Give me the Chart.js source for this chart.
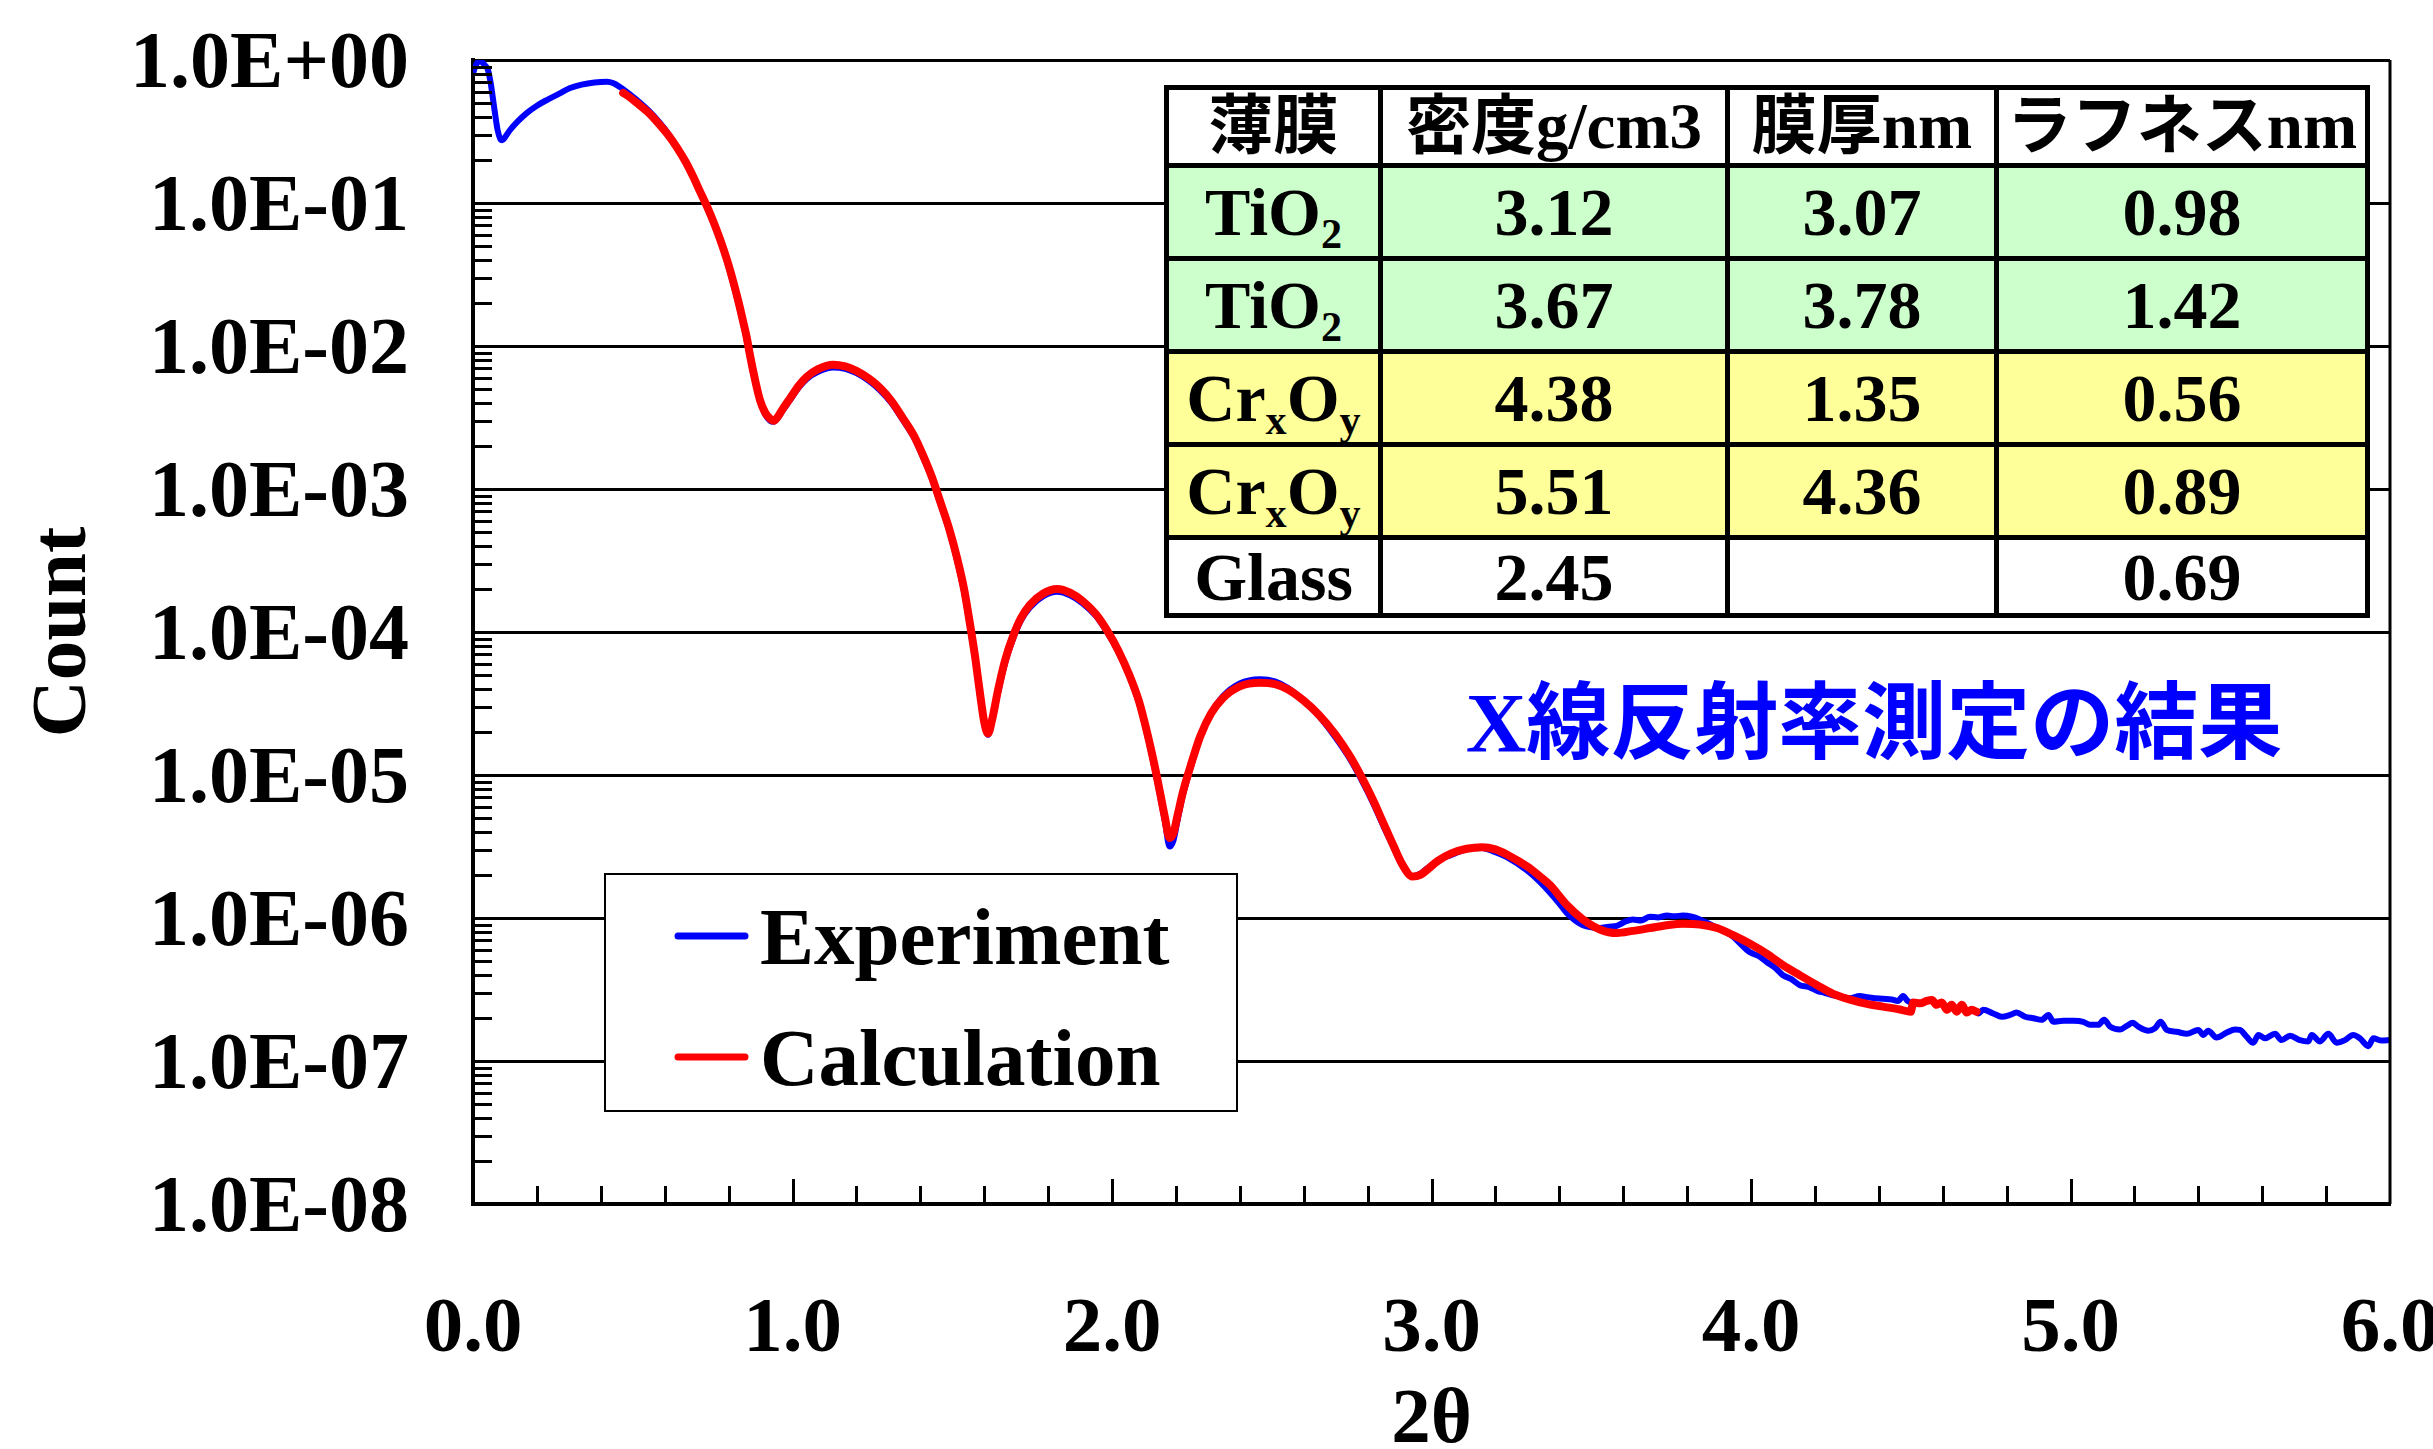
<!DOCTYPE html>
<html>
<head>
<meta charset="utf-8">
<script src="https://cdn.jsdelivr.net/npm/chart.js@4.4.1/dist/chart.umd.min.js"></script>
<style>
  body { margin: 0; background: #fff; }
  #wrap { position: relative; width: 2433px; height: 1449px; }
  #films {
    position: absolute; left: 1164px; top: 85px;
    width: 1201px; border-collapse: collapse; table-layout: fixed;
    font: bold 68px "Liberation Serif", "Noto Sans CJK JP", serif;
    text-align: center; background: #fff;
  }
  #films td { border: 5px solid #000; padding: 0; line-height: 1; }
  #films tr.head td { height: 73px; font-size: 65px; }
  #films tr.row td { height: 88px; }
  #films tr.last td { height: 73px; }
  #films tr.tio td { background: #ccffcc; }
  #films tr.cr td { background: #ffff99; }
  #films sub { font-size: 0.62em; line-height: 0; vertical-align: -0.3em; }
</style>
</head>
<body>
<div id="wrap">
  <canvas id="chart" width="2433" height="1449"></canvas>
  <table id="films">
    <colgroup><col style="width:214px"><col style="width:347px"><col style="width:269px"><col style="width:371px"></colgroup>
    <tr class="head"><td>薄膜</td><td>密度g/cm3</td><td>膜厚nm</td><td>ラフネスnm</td></tr>
    <tr class="row tio"><td>TiO<sub>2</sub></td><td>3.12</td><td>3.07</td><td>0.98</td></tr>
    <tr class="row tio"><td>TiO<sub>2</sub></td><td>3.67</td><td>3.78</td><td>1.42</td></tr>
    <tr class="row cr"><td>Cr<sub>x</sub>O<sub>y</sub></td><td>4.38</td><td>1.35</td><td>0.56</td></tr>
    <tr class="row cr"><td>Cr<sub>x</sub>O<sub>y</sub></td><td>5.51</td><td>4.36</td><td>0.89</td></tr>
    <tr class="last"><td>Glass</td><td>2.45</td><td></td><td>0.69</td></tr>
  </table>
</div>
<script>
// measured reflectivity (blue)
var expX = [0.000, 0.010, 0.022, 0.035, 0.047, 0.056, 0.063, 0.070, 0.077, 0.085, 0.092, 0.100, 0.116, 0.140, 0.169, 0.200,
  0.231, 0.270, 0.304, 0.340, 0.380, 0.419, 0.440, 0.460, 0.485, 0.513, 0.550, 0.585, 0.613, 0.638, 0.665, 0.689, 0.710,
  0.732, 0.753, 0.773, 0.795, 0.814, 0.830, 0.845, 0.857, 0.867, 0.880, 0.898, 0.915, 0.930, 0.941, 0.955, 0.970, 0.992,
  1.020, 1.045, 1.080, 1.127, 1.165, 1.200, 1.240, 1.274, 1.310, 1.346, 1.380, 1.409, 1.437, 1.462, 1.490, 1.515, 1.537,
  1.556, 1.572, 1.587, 1.600, 1.612, 1.625, 1.643, 1.665, 1.690, 1.715, 1.743, 1.785, 1.828, 1.870, 1.909, 1.950, 1.984,
  2.020, 2.056, 2.085, 2.110, 2.132, 2.150, 2.166, 2.180, 2.192, 2.205, 2.222, 2.250, 2.276, 2.310, 2.347, 2.400, 2.463,
  2.510, 2.550, 2.600, 2.648, 2.700, 2.745, 2.780, 2.818, 2.850, 2.880, 2.910, 2.940, 2.965, 2.988, 3.020, 3.060, 3.110,
  3.158, 3.200, 3.240, 3.300, 3.340, 3.371, 3.400, 3.424, 3.450, 3.474, 3.500, 3.527, 3.555, 3.580, 3.605, 3.630, 3.655,
  3.684, 3.710, 3.737, 3.760, 3.787, 3.815, 3.840, 3.870, 3.894, 3.920, 3.944, 3.970, 3.997, 4.025, 4.050, 4.075, 4.100,
  4.125, 4.153, 4.180, 4.207, 4.230, 4.257, 4.285, 4.310, 4.340, 4.363, 4.390, 4.413, 4.440, 4.460, 4.476, 4.490, 4.500,
  4.508, 4.529, 4.550, 4.566, 4.581, 4.597, 4.613, 4.628, 4.644, 4.660, 4.675, 4.691, 4.706,
  4.711, 4.727, 4.758, 4.785, 4.811, 4.831, 4.858, 4.884, 4.910, 4.931, 4.946, 4.978, 5.009, 5.040, 5.061, 5.087, 5.105,
  5.124, 5.155, 5.176, 5.195, 5.212, 5.244, 5.264, 5.282, 5.301, 5.332, 5.364, 5.400, 5.416, 5.431, 5.457, 5.489, 5.515,
  5.530, 5.551, 5.572, 5.588, 5.609, 5.640, 5.661, 5.687, 5.718, 5.744, 5.755, 5.781, 5.807, 5.833, 5.859, 5.885, 5.906,
  5.932, 5.948, 5.974, 6.000];
var expY = [0.81, 0.93, 0.98, 0.93, 0.85, 0.676, 0.525, 0.407, 0.324, 0.282, 0.275, 0.288, 0.324, 0.372, 0.427, 0.479,
  0.525, 0.582, 0.637, 0.673, 0.697, 0.705, 0.687, 0.647, 0.589, 0.525, 0.442, 0.363, 0.302, 0.247, 0.195, 0.152, 0.120,
  0.0933, 0.0724, 0.055, 0.0389, 0.0275, 0.020, 0.0145, 0.011, 0.0083, 0.006, 0.0041, 0.0033, 0.0030, 0.00295, 0.00316, 0.00355, 0.00417,
  0.00513, 0.00589, 0.0066, 0.00708, 0.00692, 0.00646, 0.00569, 0.0049, 0.00398, 0.00302, 0.00229, 0.00166, 0.00117, 7.94e-4, 5.13e-4, 3.16e-4, 1.91e-4,
  1.07e-4, 6.31e-5, 3.55e-5, 2.29e-5, 1.91e-5, 2.4e-5, 3.72e-5, 6.03e-5, 8.91e-5, 1.2e-4, 1.48e-4, 1.78e-4, 1.91e-4, 1.8e-4, 1.58e-4, 1.29e-4, 1.0e-4,
  7.24e-5, 4.79e-5, 3.16e-5, 1.91e-5, 1.15e-5, 7.24e-6, 4.68e-6, 3.16e-6, 3.47e-6, 4.79e-6, 7.24e-6, 1.2e-5, 1.82e-5, 2.69e-5, 3.55e-5, 4.37e-5, 4.68e-5,
  4.52e-5, 4.07e-5, 3.31e-5, 2.57e-5, 1.82e-5, 1.29e-5, 9.33e-6, 6.31e-6, 4.37e-6, 3.16e-6, 2.29e-6, 1.95e-6, 2.04e-6, 2.24e-6, 2.51e-6, 2.75e-6, 3.02e-6,
  3.09e-6, 2.88e-6, 2.63e-6, 2.14e-6, 1.78e-6, 1.5e-6, 1.26e-6, 1.08e-6, 9.6e-7, 8.91e-7, 8.6e-7, 8.51e-7, 8.7e-7, 8.81e-7, 9.4e-7, 9.77e-7, 9.6e-7,
  1.02e-6, 1.01e-6, 1.04e-6, 1.03e-6, 1.04e-6, 1.02e-6, 9.77e-7, 9.1e-7, 8.51e-7, 8.0e-7, 7.41e-7, 6.5e-7, 5.75e-7, 5.4e-7, 4.9e-7, 4.5e-7, 3.98e-7,
  3.75e-7, 3.39e-7, 3.3e-7, 3.09e-7, 3.0e-7, 2.88e-7, 2.8e-7, 2.75e-7, 2.85e-7, 2.79e-7, 2.75e-7, 2.72e-7, 2.69e-7, 2.63e-7, 2.85e-7, 2.63e-7, 2.57e-7,
  2.57e-7, 2.53e-7, 2.63e-7, 2.67e-7, 2.47e-7, 2.57e-7, 2.28e-7, 2.47e-7, 2.21e-7, 2.47e-7, 2.18e-7, 2.28e-7, 2.21e-7,
  2.15e-7, 2.28e-7, 2.15e-7, 2.04e-7, 2.10e-7, 2.18e-7, 2.04e-7, 1.99e-7, 1.94e-7, 2.10e-7, 1.88e-7, 1.91e-7, 1.91e-7, 1.88e-7, 1.79e-7, 1.79e-7, 1.94e-7,
  1.74e-7, 1.66e-7, 1.76e-7, 1.85e-7, 1.74e-7, 1.63e-7, 1.69e-7, 1.88e-7, 1.65e-7, 1.60e-7, 1.55e-7, 1.65e-7, 1.52e-7, 1.63e-7, 1.46e-7, 1.58e-7, 1.66e-7,
  1.65e-7, 1.48e-7, 1.34e-7, 1.52e-7, 1.44e-7, 1.55e-7, 1.40e-7, 1.50e-7, 1.40e-7, 1.37e-7, 1.52e-7, 1.37e-7, 1.55e-7, 1.34e-7, 1.40e-7, 1.52e-7, 1.44e-7,
  1.27e-7, 1.44e-7, 1.39e-7, 1.40e-7];

// fitted model (red)
var calcX = [0.470, 0.490, 0.513, 0.550, 0.585, 0.613, 0.638, 0.665, 0.689, 0.710, 0.732, 0.753, 0.773, 0.795, 0.814, 0.830,
  0.845, 0.857, 0.867, 0.880, 0.898, 0.915, 0.930, 0.941, 0.955, 0.970, 0.992, 1.020, 1.045, 1.080, 1.127, 1.165, 1.200,
  1.240, 1.274, 1.310, 1.346, 1.380, 1.409, 1.437, 1.462, 1.490, 1.515, 1.537, 1.556, 1.572, 1.587, 1.600, 1.612, 1.625,
  1.643, 1.665, 1.690, 1.715, 1.743, 1.785, 1.828, 1.870, 1.909, 1.950, 1.984, 2.020, 2.056, 2.085, 2.110, 2.132, 2.150,
  2.166, 2.180, 2.192, 2.205, 2.222, 2.250, 2.276, 2.310, 2.347, 2.400, 2.463, 2.510, 2.550, 2.600, 2.648, 2.700, 2.745,
  2.780, 2.818, 2.850, 2.880, 2.910, 2.940, 2.965, 2.988, 3.020, 3.060, 3.110, 3.158, 3.200, 3.240, 3.300, 3.340, 3.371,
  3.424, 3.474, 3.527, 3.580, 3.630, 3.684, 3.737, 3.787, 3.840, 3.894, 3.944, 3.997, 4.050, 4.100, 4.153, 4.207, 4.257,
  4.310, 4.363, 4.413, 4.466, 4.500,
  4.508, 4.529, 4.550, 4.566, 4.581, 4.597, 4.613, 4.628, 4.644, 4.660, 4.675, 4.691, 4.706];
var calcY = [0.589, 0.55, 0.501, 0.427, 0.351, 0.295, 0.245, 0.195, 0.153, 0.121, 0.095, 0.0735, 0.056, 0.040, 0.0285, 0.0208,
  0.015, 0.0114, 0.0086, 0.0062, 0.0042, 0.0034, 0.0031, 0.0030, 0.00322, 0.00365, 0.0043, 0.0053, 0.0061, 0.0069, 0.0074, 0.0072, 0.0067,
  0.0059, 0.0051, 0.00412, 0.00312, 0.00236, 0.00171, 0.0012, 8.2e-4, 5.3e-4, 3.3e-4, 2.0e-4, 1.12e-4, 6.6e-5, 3.7e-5, 2.35e-5, 1.95e-5, 2.45e-5,
  3.9e-5, 6.3e-5, 9.3e-5, 1.25e-4, 1.55e-4, 1.86e-4, 2.0e-4, 1.88e-4, 1.64e-4, 1.33e-4, 1.03e-4, 7.4e-5, 4.9e-5, 3.25e-5, 1.98e-5, 1.2e-5, 7.6e-6,
  5.0e-6, 3.63e-6, 3.9e-6, 5.2e-6, 7.6e-6, 1.24e-5, 1.86e-5, 2.69e-5, 3.45e-5, 4.17e-5, 4.42e-5, 4.32e-5, 3.98e-5, 3.31e-5, 2.63e-5, 1.91e-5, 1.35e-5,
  9.77e-6, 6.61e-6, 4.57e-6, 3.24e-6, 2.34e-6, 1.95e-6, 2.0e-6, 2.19e-6, 2.51e-6, 2.82e-6, 3.05e-6, 3.13e-6, 3.02e-6, 2.75e-6, 2.29e-6, 1.95e-6, 1.7e-6,
  1.23e-6, 9.77e-7, 8.32e-7, 7.85e-7, 8.13e-7, 8.51e-7, 8.91e-7, 9.12e-7, 9.02e-7, 8.51e-7, 7.59e-7, 6.61e-7, 5.62e-7, 4.68e-7, 3.98e-7, 3.39e-7, 2.95e-7,
  2.69e-7, 2.51e-7, 2.40e-7, 2.29e-7, 2.21e-7,
  2.57e-7, 2.53e-7, 2.63e-7, 2.67e-7, 2.47e-7, 2.57e-7, 2.28e-7, 2.47e-7, 2.21e-7, 2.47e-7, 2.18e-7, 2.28e-7, 2.21e-7];

var seriesNames = ['Experiment', 'Calculation'];
var yDecades = [1e-8, 1e-7, 1e-6, 1e-5, 1e-4, 1e-3, 1e-2, 1e-1, 1];
var xLabels = ['0.0', '1.0', '2.0', '3.0', '4.0', '5.0', '6.0'];
var noteText = 'X線反射率測定の結果';

var serif = '"Liberation Serif", "Noto Sans CJK JP", serif';

function toPoints(xs, ys) {
  return xs.map(function(x, i) { return { x: x, y: ys[i] }; });
}

function sciLabel(v) {
  var e = Math.round(Math.log10(v));
  return '1.0E' + (e < 0 ? '-' : '+') + String(Math.abs(e)).padStart(2, '0');
}

// minor ticks, right frame edge, legend box and the blue caption
var decorations = {
  id: 'decorations',
  afterDraw: function(chart) {
    var ctx = chart.ctx, a = chart.chartArea;
    var xs = chart.scales.x, ys = chart.scales.y;
    ctx.save();
    ctx.strokeStyle = '#000';
    ctx.lineWidth = 3;
    ctx.beginPath();
    for (var e = -8; e < 0; e++) {
      for (var m = 1; m < 10; m++) {
        var py = Math.round(ys.getPixelForValue(m * Math.pow(10, e))) + 0.5;
        ctx.moveTo(a.left, py);
        ctx.lineTo(a.left + (m === 1 ? 24 : 19), py);
      }
    }
    for (var i = 1; i < 30; i++) {
      var px = Math.round(xs.getPixelForValue(i / 5)) + 0.5;
      ctx.moveTo(px, a.bottom);
      ctx.lineTo(px, a.bottom - (i % 5 ? 18 : 25));
    }
    ctx.moveTo(a.right, a.top);
    ctx.lineTo(a.right, a.bottom);
    ctx.stroke();

    // legend
    var lx = a.left + 132, ly = a.top + 814;
    ctx.fillStyle = '#fff';
    ctx.fillRect(lx, ly, 632, 237);
    ctx.lineWidth = 2;
    ctx.strokeRect(lx, ly, 632, 237);
    ctx.font = 'bold 81px ' + serif;
    ctx.textAlign = 'left';
    ctx.textBaseline = 'middle';
    chart.data.datasets.forEach(function(ds, k) {
      var cy = ly + 62 + k * 121;
      ctx.strokeStyle = ds.borderColor;
      ctx.lineWidth = 7;
      ctx.lineCap = 'round';
      ctx.beginPath();
      ctx.moveTo(lx + 73, cy);
      ctx.lineTo(lx + 140, cy);
      ctx.stroke();
      ctx.fillStyle = '#000';
      ctx.fillText(ds.label, lx + 155, cy + 7);
    });

    // caption
    ctx.fillStyle = '#0000ff';
    ctx.font = 'bold 84px ' + serif;
    ctx.textAlign = 'center';
    ctx.fillText(noteText, a.left + 1401, a.top + 670);
    ctx.restore();
  }
};

var chart = new Chart(document.getElementById('chart'), {
  type: 'line',
  data: {
    datasets: [{
      label: seriesNames[0],
      data: toPoints(expX, expY),
      borderColor: '#0000ff',
      borderWidth: 6,
      pointRadius: 0,
      cubicInterpolationMode: 'monotone',
      borderJoinStyle: 'round',
      borderCapStyle: 'round',
      order: 2
    }, {
      label: seriesNames[1],
      data: toPoints(calcX, calcY),
      borderColor: '#ff0000',
      borderWidth: 8,
      pointRadius: 0,
      cubicInterpolationMode: 'monotone',
      borderJoinStyle: 'round',
      borderCapStyle: 'round',
      order: 1
    }]
  },
  options: {
    responsive: false,
    animation: false,
    devicePixelRatio: 1,
    layout: { padding: { top: 60, right: 43, left: 0, bottom: 0 } },
    plugins: { legend: { display: false }, tooltip: { enabled: false } },
    scales: {
      x: {
        type: 'linear',
        min: 0, max: 6,
        grid: { display: false, drawTicks: false },
        border: { color: '#000', width: 4 },
        ticks: {
          stepSize: 1, maxRotation: 0, autoSkip: false, padding: 79,
          color: '#000', font: { family: serif, size: 79, weight: 'bold' },
          callback: function(v) { return xLabels[Math.round(v)]; }
        },
        title: {
          display: true, text: '2θ', color: '#000',
          font: { family: serif, size: 79, weight: 'bold', lineHeight: 0.7 },
          padding: { top: 0, bottom: 0 }
        },
        afterFit: function(s) { s.height = 245; s.paddingLeft = 0; s.paddingRight = 0; }
      },
      y: {
        type: 'logarithmic',
        min: 1e-8, max: 1,
        grid: { color: '#000', lineWidth: 3, drawTicks: false },
        border: { color: '#000', width: 4 },
        afterBuildTicks: function(s) { s.ticks = yDecades.map(function(v) { return { value: v }; }); },
        ticks: {
          autoSkip: false, padding: 64, labelOffset: 6, color: '#000',
          font: { family: serif, size: 80, weight: 'bold' },
          callback: function(v) { return sciLabel(v); }
        },
        title: {
          display: true, text: 'Count', color: '#000',
          font: { family: serif, size: 79, weight: 'bold', lineHeight: 1.2 },
          padding: { top: 17, bottom: 0 }
        },
        afterFit: function(s) { s.width = 473; s.paddingTop = 0; s.paddingBottom = 0; }
      }
    }
  },
  plugins: [decorations]
});
</script>
</body>
</html>
